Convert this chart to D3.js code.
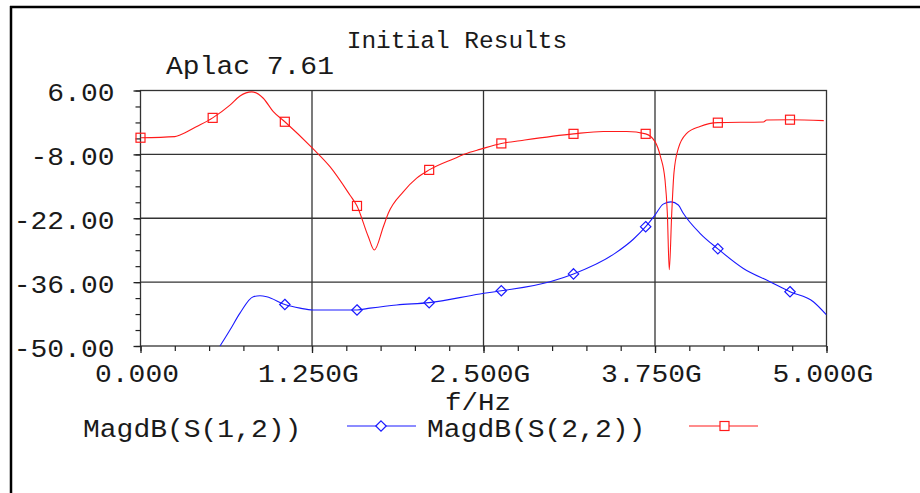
<!DOCTYPE html>
<html><head><meta charset="utf-8">
<script src="https://cdn.jsdelivr.net/npm/d3@7"></script>
<style>
html,body{margin:0;padding:0;background:#fff;}
svg{display:block;}
text{font-family:"Liberation Mono","Courier New",monospace;fill:#1a1a1a;}
</style></head><body>
<svg id="chart" width="920" height="493"></svg>
<script>
// S22 magnitude (dB) versus frequency (GHz)
const s22Freq = [0, 0.25, 0.288, 0.41, 0.526, 0.652, 0.725, 0.81, 0.895, 0.968, 1.052, 1.255, 1.381, 1.526, 1.578, 1.66, 1.704, 1.77, 1.806, 1.915, 2.013, 2.104, 2.28, 2.40, 2.474, 2.63, 2.766, 3.156, 3.373, 3.544, 3.682, 3.75, 3.79, 3.823, 3.84, 3.854, 3.872, 3.888, 3.92, 3.981, 4.078, 4.208, 4.54, 4.564, 4.734, 4.98];
const s22Db   = [-4.35, -4.1, -3.75, -1.9, 0.0, 2.8, 4.8, 5.7, 4.3, 1.35, -0.85, -6.7, -10.7, -16.9, -19.3, -26.0, -28.96, -23.85, -20.9, -16.2, -13.2, -11.4, -9.0, -7.55, -6.9, -5.6, -5.0, -3.5, -3.0, -3.0, -3.5, -5.2, -8.5, -13.6, -20.9, -33.3, -20.9, -12.1, -6.7, -3.4, -1.9, -1.05, -0.9, -0.47, -0.4, -0.6];

// S12 magnitude (dB) versus frequency (GHz); values below -50 dB fall outside the plot
const s12Freq = [0, 0.3, 0.526, 0.58, 0.652, 0.725, 0.822, 0.871, 0.92, 1.052, 1.163, 1.255, 1.578, 1.673, 1.867, 2.104, 2.474, 2.63, 2.985, 3.156, 3.458, 3.592, 3.682, 3.75, 3.81, 3.867, 3.92, 3.956, 4.078, 4.208, 4.394, 4.588, 4.734, 4.904, 5.0];
const s12Db   = [-70, -62, -52.6, -50.0, -46.5, -42.8, -39.2, -39.0, -39.2, -40.9, -41.7, -42.1, -42.1, -41.7, -41.0, -40.5, -38.6, -37.9, -35.9, -34.2, -29.7, -26.6, -23.85, -21.3, -18.9, -18.4, -19.1, -20.9, -25.3, -28.7, -33.0, -35.9, -38.1, -40.3, -43.2];

// Marker positions along each trace
const markerFreq  = [0, 0.526, 1.052, 1.578, 2.104, 2.63, 3.156, 3.682, 4.208, 4.734];
const s22MarkerDb = [-4.35, 0.0, -0.85, -19.3, -11.4, -5.6, -3.5, -3.5, -1.05, -0.4];
const s12MarkerDb = [-70, -52.6, -40.9, -42.1, -40.5, -37.9, -34.2, -23.85, -28.7, -38.1];

// Axis ticks
const xTicks = [0, 1.25, 2.5, 3.75, 5];
const xMinorTicks = d3.range(0, 5.0001, 0.25);
const yTicks = [-50, -36, -22, -8, 6];
const yMinorTicks = d3.range(-50, 6.0001, 3.5);
const xTickLabels = ["0.000", "1.250G", "2.500G", "3.750G", "5.000G"];
const yTickLabels = ["-50.00", "-36.00", "-22.00", "-8.00", "6.00"];

const titleText = "Initial Results";
const subtitleText = "Aplac 7.61";
const xAxisTitle = "f/Hz";
const legendNames = ["MagdB(S(1,2))", "MagdB(S(2,2))"];

const RED = "#ff1a1a", BLUE = "#1a1aff";
const FONT = '"Liberation Mono","Courier New",monospace';
const SQUASH = 0.9;   // wide, low glyphs of the plotter font

const svg = d3.select("#chart");
const pLeft = 140.5, pRight = 826.5, pTop = 90.5, pBottom = 346;

const x = d3.scaleLinear().domain([0, 5]).range([pLeft, pRight]);
const y = d3.scaleLinear().domain([-50, 6]).range([pBottom, pTop]);

// place a text with its baseline at (tx, ty), vertically squashed
function placeText(sel, tx, ty, k = SQUASH) {
  sel.attr("x", 0).attr("y", 0).attr("dy", 0)
    .attr("transform", `translate(${tx},${ty}) scale(1,${k})`);
}

// outer frame
svg.append("line").attr("x1", 10).attr("x2", 920).attr("y1", 7).attr("y2", 7)
  .attr("stroke", "#000").attr("stroke-width", 2.5);
svg.append("line").attr("x1", 11).attr("x2", 11).attr("y1", 6).attr("y2", 493)
  .attr("stroke", "#000").attr("stroke-width", 2.5);

// grid
const grid = svg.append("g");
grid.selectAll(".gx").data(xTicks.slice(1, -1)).join("line")
  .attr("x1", d => x(d)).attr("x2", d => x(d)).attr("y1", pTop).attr("y2", pBottom)
  .attr("stroke", "#333").attr("stroke-width", 1.3);
grid.selectAll(".gy").data(yTicks.slice(1, -1)).join("line")
  .attr("x1", pLeft).attr("x2", pRight).attr("y1", d => y(d)).attr("y2", d => y(d))
  .attr("stroke", "#333").attr("stroke-width", 1.3);
svg.append("rect").attr("x", pLeft).attr("y", pTop).attr("width", pRight - pLeft).attr("height", pBottom - pTop)
  .attr("fill", "none").attr("stroke", "#333").attr("stroke-width", 1.3);

// minor ticks
svg.append("g").attr("transform", `translate(0,${pBottom})`)
  .call(d3.axisBottom(x).tickValues(xMinorTicks).tickSize(5).tickFormat(""))
  .call(g => g.select(".domain").remove())
  .call(g => g.selectAll("line").attr("stroke", "#222").attr("stroke-width", 1.2));
svg.append("g").attr("transform", `translate(${pLeft},0)`)
  .call(d3.axisLeft(y).tickValues(yMinorTicks).tickSize(5).tickFormat(""))
  .call(g => g.select(".domain").remove())
  .call(g => g.selectAll("line").attr("stroke", "#222").attr("stroke-width", 1.2));

// major ticks and labels
svg.append("g").attr("transform", `translate(0,${pBottom})`)
  .call(d3.axisBottom(x).tickValues(xTicks).tickSize(7).tickFormat((d, i) => xTickLabels[i]))
  .call(g => g.select(".domain").remove())
  .call(g => g.selectAll("line").attr("stroke", "#222").attr("stroke-width", 1.3))
  .call(g => g.selectAll("text").attr("font-size", 28).attr("fill", "#1a1a1a")
    .style("font-family", FONT).call(placeText, -4, 35.7));
svg.append("g").attr("transform", `translate(${pLeft},0)`)
  .call(d3.axisLeft(y).tickValues(yTicks).tickSize(7).tickFormat((d, i) => yTickLabels[i]))
  .call(g => g.select(".domain").remove())
  .call(g => g.selectAll("line").attr("stroke", "#222").attr("stroke-width", 1.3))
  .call(g => g.selectAll("text").attr("font-size", 28).attr("fill", "#1a1a1a")
    .style("font-family", FONT).call(placeText, -26, 10));

// titles
svg.append("text").attr("x", 457).attr("y", 48).attr("text-anchor", "middle")
  .attr("font-size", 24.5).text(titleText);
svg.append("text").attr("font-size", 28).text(subtitleText).call(placeText, 166, 73.5);
svg.append("text").attr("text-anchor", "middle").attr("font-size", 27.5)
  .text(xAxisTitle).call(placeText, 478, 409.5, 0.85);

// traces
svg.append("clipPath").attr("id", "plotClip").append("rect")
  .attr("x", pLeft).attr("y", pTop - 2).attr("width", pRight - pLeft).attr("height", pBottom - pTop + 2);
const plot = svg.append("g").attr("clip-path", "url(#plotClip)");
const line = d3.line().x(d => x(d[0])).y(d => y(d[1])).curve(d3.curveMonotoneX);

plot.append("path").datum(d3.zip(s12Freq, s12Db)).attr("d", line)
  .attr("fill", "none").attr("stroke", BLUE).attr("stroke-width", 1.1);
plot.append("path").datum(d3.zip(s22Freq, s22Db)).attr("d", line)
  .attr("fill", "none").attr("stroke", RED).attr("stroke-width", 1.1);

const sq = 9, dm = 5.2;
const diamondPath = (cx, cy) => `M${cx},${cy - dm}L${cx + dm},${cy}L${cx},${cy + dm}L${cx - dm},${cy}Z`;

plot.selectAll(".m12").data(d3.zip(markerFreq, s12MarkerDb)).join("path")
  .attr("d", d => diamondPath(x(d[0]), y(d[1])))
  .attr("fill", "none").attr("stroke", BLUE).attr("stroke-width", 1.2);
svg.append("g").selectAll(".m22").data(d3.zip(markerFreq, s22MarkerDb)).join("rect")
  .attr("x", d => x(d[0]) - sq / 2).attr("y", d => y(d[1]) - sq / 2)
  .attr("width", sq).attr("height", sq)
  .attr("fill", "none").attr("stroke", RED).attr("stroke-width", 1.2);

// legend
const legY = 426;
svg.append("text").attr("font-size", 28).text(legendNames[0]).call(placeText, 83, 436.5);
svg.append("line").attr("x1", 347).attr("x2", 416).attr("y1", legY).attr("y2", legY)
  .attr("stroke", BLUE).attr("stroke-width", 1.1);
svg.append("path").attr("d", diamondPath(381, legY))
  .attr("fill", "#fff").attr("stroke", BLUE).attr("stroke-width", 1.2);
svg.append("text").attr("font-size", 28).text(legendNames[1]).call(placeText, 427, 436.5);
svg.append("line").attr("x1", 689).attr("x2", 758).attr("y1", legY).attr("y2", legY)
  .attr("stroke", RED).attr("stroke-width", 1.1);
svg.append("rect").attr("x", 724.5 - sq / 2).attr("y", legY - sq / 2).attr("width", sq).attr("height", sq)
  .attr("fill", "#fff").attr("stroke", RED).attr("stroke-width", 1.2);
</script>
</body></html>
